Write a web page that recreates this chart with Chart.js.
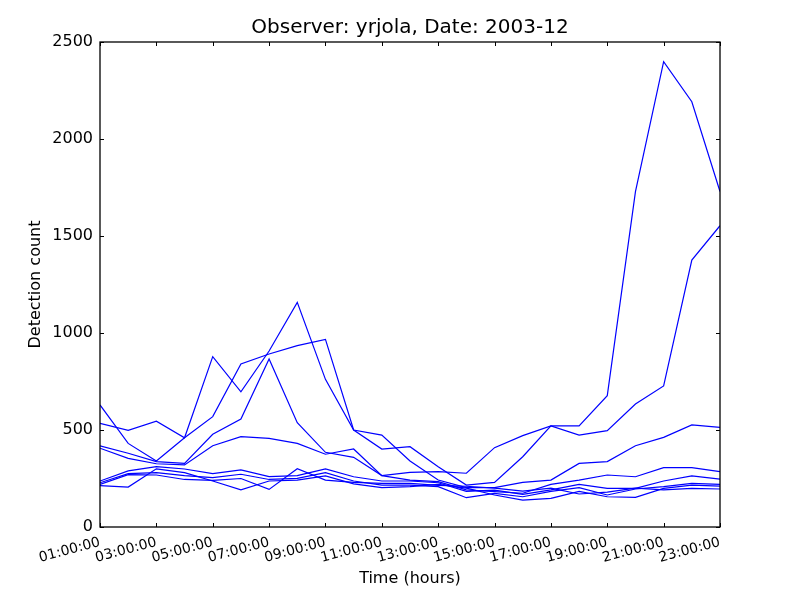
<!DOCTYPE html>
<html>
<head>
<meta charset="utf-8">
<script src="https://cdn.jsdelivr.net/npm/chart.js@4/dist/chart.umd.min.js"></script>
<style>
html,body{margin:0;padding:0;background:#fff;}
#wrap{width:800px;height:600px;}
</style>
</head>
<body>
<div id="wrap"><canvas id="c" width="800" height="600"></canvas></div>
<script>
const hours = [1,2,3,4,5,6,7,8,9,10,11,12,13,14,15,16,17,18,19,20,21,22,23];
const series1 = [534,498,545,460,878,697,907,1158,761,500,402,414,311,216,230,362,521,521,677,1729,2399,2192,1729];
const series2 = [629,431,340,460,569,840,892,935,967,500,474,340,242,203,203,230,242,328,337,419,462,526,514];
const series3 = [418,380,337,328,478,557,866,538,385,359,265,282,285,277,409,471,521,474,497,634,727,1376,1553];
const series4 = [406,354,326,320,419,466,457,431,375,402,265,242,234,191,182,174,220,242,268,259,306,306,285];
const series5 = [237,289,311,299,275,294,260,265,299,259,237,237,228,184,190,168,191,220,199,199,237,263,247];
const series6 = [228,275,280,265,255,272,245,251,280,237,216,216,208,151,173,156,184,203,165,196,208,225,220];
const series7 = [213,206,300,280,237,191,237,242,263,222,203,208,220,200,165,139,148,184,156,153,199,216,211];
const series8 = [220,270,268,245,240,250,194,300,242,230,225,225,215,210,200,185,200,170,180,200,191,199,196];
const allSeries = [series1,series2,series3,series4,series5,series6,series7,series8];
const yTicks = [0,500,1000,1500,2000,2500];

const FONT = "'DejaVu Sans', sans-serif";

const frameTicks = {
  id: 'frameTicks',
  afterDraw(chart) {
    const {ctx, chartArea: a, scales} = chart;
    ctx.save();
    ctx.strokeStyle = '#000';
    ctx.lineWidth = 1;
    const L = 4;
    scales.x.ticks.forEach(t => {
      const px = Math.round(scales.x.getPixelForValue(t.value)) + 0.5;
      ctx.beginPath();
      ctx.moveTo(px, a.bottom); ctx.lineTo(px, a.bottom - L);
      ctx.moveTo(px, a.top); ctx.lineTo(px, a.top + L);
      ctx.stroke();
    });
    scales.y.ticks.forEach(t => {
      const py = Math.round(scales.y.getPixelForValue(t.value)) + 0.5;
      ctx.beginPath();
      ctx.moveTo(a.left, py); ctx.lineTo(a.left + L, py);
      ctx.moveTo(a.right, py); ctx.lineTo(a.right - L, py);
      ctx.stroke();
    });
    ctx.lineWidth = 1.3;
    ctx.strokeRect(a.left, a.top, a.right - a.left, a.bottom - a.top);
    ctx.restore();
  }
};

new Chart(document.getElementById('c'), {
  type: 'line',
  data: {
    datasets: allSeries.map(s => ({
      data: hours.map((h, i) => ({x: h, y: s[i]})),
      borderColor: '#0000ff',
      borderWidth: 1.2,
      pointRadius: 0,
      tension: 0,
      fill: false
    }))
  },
  options: {
    responsive: false,
    animation: false,
    layout: {padding: {left: 0, right: 80, top: 0, bottom: 0}},
    plugins: {
      legend: {display: false},
      tooltip: {enabled: false},
      title: {
        display: true,
        fullSize: false,
        text: 'Observer: yrjola, Date: 2003-12',
        color: '#000',
        font: {family: FONT, size: 20, weight: 'normal'},
        padding: {top: 16, bottom: 2}
      }
    },
    scales: {
      x: {
        type: 'linear',
        min: 1, max: 23,
        afterBuildTicks(scale) {
          scale.ticks = hours.filter((h, i) => i % 2 === 0).map(h => ({value: h}));
        },
        afterFit(scale) { scale.height = 73; },
        grid: {display: false, drawTicks: false},
        border: {display: false},
        ticks: {
          color: '#000',
          font: {family: FONT, size: 14},
          minRotation: 15, maxRotation: 15,
          padding: 7,
          autoSkip: false,
          callback: v => (v < 10 ? '0' + v : '' + v) + ':00:00'
        },
        title: {
          display: true, text: 'Time (hours)', color: '#000',
          font: {family: FONT, size: 16}, padding: {top: 4, bottom: 12}
        }
      },
      y: {
        type: 'linear',
        min: 0, max: 2500,
        afterBuildTicks(scale) {
          scale.ticks = yTicks.map(v => ({value: v}));
        },
        afterFit(scale) { scale.width = 100; },
        grid: {display: false, drawTicks: false},
        border: {display: false},
        ticks: {
          color: '#000',
          font: {family: FONT, size: 16},
          padding: 7,
          callback: v => String(v)
        },
        title: {
          display: true, text: 'Detection count', color: '#000',
          font: {family: FONT, size: 16}, padding: {top: 26, bottom: 0}
        }
      }
    }
  },
  plugins: [frameTicks]
});
</script>
</body>
</html>
